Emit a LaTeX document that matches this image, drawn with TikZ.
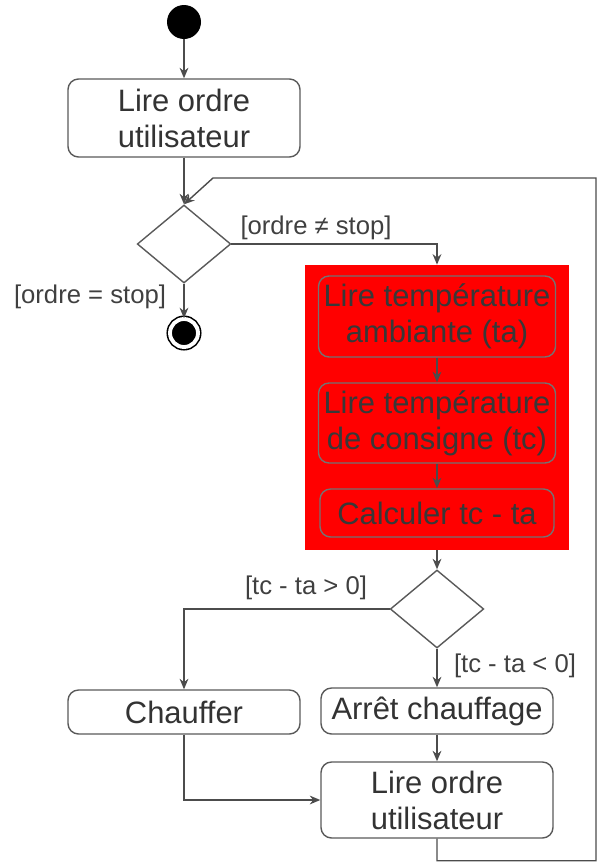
\documentclass[tikz,border=0pt]{standalone}
\usepackage{fontspec}
\setmainfont{Liberation Sans}
\usetikzlibrary{shapes.geometric,arrows.meta}

\begin{document}
\begin{tikzpicture}[act/.style={draw=black!65,rounded corners=6pt,line width=0.8pt,text=black!80,align=center,inner sep=0pt,font=\fontsize{17.6}{20.5}\selectfont}, choice/.style={diamond,draw=black!65,line width=0.8pt,minimum width=1.87cm,minimum height=1.56cm,inner sep=0pt}, guard/.style={text=black!75,font=\fontsize{14.6}{17}\selectfont}, flow/.style={draw=black!70,line width=0.8pt,-{Stealth[length=6pt,width=5pt]}}]
       \useasboundingbox (0,0) rectangle (12.04,-17.26);
       % red group behind the three reading steps
       \node[fill=red,minimum width=5.28cm,minimum height=5.7cm,inner sep=0pt] (r) at (8.74,-8.15) {};

       \node[circle,fill=black,minimum size=0.68cm,inner sep=0pt] (1) at (3.68,-0.44) {};
       \node[act,minimum width=4.64cm,minimum height=1.56cm] (2) at (3.68,-2.36) {Lire ordre\\utilisateur};
       \node[choice] (3) at (3.68,-4.88) {};
       \node[circle,fill=black,draw=black,line width=0.9pt,double=white,double distance=2.2pt,minimum size=0.56cm,inner sep=0pt] (4) at (3.68,-6.66) {};
       \node[act,draw=black!55,text=black!78,minimum width=4.74cm,minimum height=1.62cm] (5) at (8.74,-6.33) {Lire température\\ambiante (ta)};
       \node[act,draw=black!55,text=black!78,minimum width=4.74cm,minimum height=1.6cm] (6) at (8.74,-8.46) {Lire température\\de consigne (tc)};
       \node[act,draw=black!55,text=black!78,minimum width=4.68cm,minimum height=0.96cm] (7) at (8.74,-10.26) {Calculer tc - ta};
       \node[choice] (8) at (8.74,-12.18) {};
       \node[act,minimum width=4.64cm,minimum height=0.88cm] (9) at (3.68,-14.24) {Chauffer};
       \node[act,minimum width=4.64cm,minimum height=0.92cm] (10) at (8.74,-14.22) {Arrêt chauffage};
       \node[act,minimum width=4.64cm,minimum height=1.52cm] (11) at (8.74,-16.0) {Lire ordre\\utilisateur};

       \foreach \a/\b in {1/2,2/3,3/4,5/6,6/7,r/8,8/10,10/11}{\draw[flow] (\a) -- (\b); }
       \draw[flow] (3.east) -| (r.north);
       \draw[flow] (8.west) -| (9.north);
       \draw[flow] (9.south) |- (11.west);
       \draw[flow] (11.south) -- ++(0,-0.44) -| (11.92,-3.56) -- (4.26,-3.56) -- (3.north);

       \node[guard] at (6.32,-4.56) {[ordre ≠ stop]};
       \node[guard] at (1.8,-5.94) {[ordre = stop]};
       \node[guard] at (6.12,-11.76) {[tc - ta > 0]};
       \node[guard] at (10.3,-13.32) {[tc - ta < 0]};
     \end{tikzpicture}
\end{document}
